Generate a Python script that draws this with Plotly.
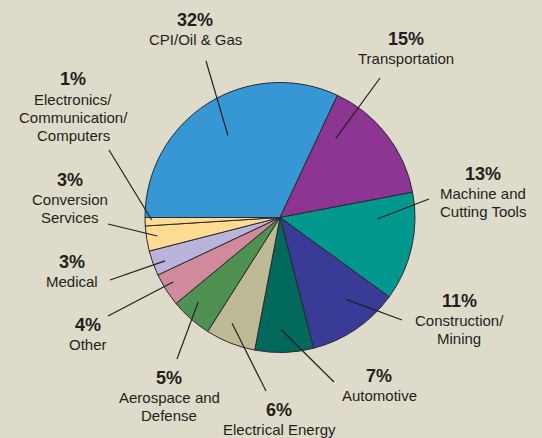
import math
import plotly.graph_objects as go

# ---- data ----
categories = ["CPI/Oil & Gas", "Transportation", "Machine and Cutting Tools",
              "Construction/Mining", "Automotive", "Electrical Energy",
              "Aerospace and Defense", "Other", "Medical", "Conversion Services",
              "Electronics/Communication/Computers"]
values = [32, 15, 13, 11, 7, 6, 5, 4, 3, 3, 1]
label_lines = [["CPI/Oil & Gas"], ["Transportation"], ["Machine and", "Cutting Tools"],
               ["Construction/", "Mining"], ["Automotive"], ["Electrical Energy"],
               ["Aerospace and", "Defense"], ["Other"], ["Medical"],
               ["Conversion", "Services"], ["Electronics/", "Communication/", "Computers"]]

# ---- style ----
colors = ["#3796d4", "#8d3592", "#00978f", "#3a3a97", "#00695b", "#bfba96",
          "#4f9151", "#d18a9b", "#bab3db", "#fedc93", "#fedc93"]
BG = "#dfdbca"
TXT = "#231f20"
W, H = 542, 438
CX, CY, R = 280, 217.5, 135
# label placement (pixels): text centre x, bold line centre y
lab_x = [195, 406, 483, 459, 379, 279, 169, 88, 72, 70, 73]
lab_y = [20, 39, 174, 301, 376, 410, 378, 325, 262, 180, 79.5]
# leader line tails (pixels)
tail = [(206, 61), (380, 78), (429, 199), (402, 320), (334, 382), (266, 391),
        (177, 359), (108, 316), (110, 280), (108, 224), (109, 150)]
# tip position within slice: fraction of slice angle, fraction of radius
tip_af = [0.5, 0.185, 0.25, 0.38, 0.55, 0.63, 0.65, 0.59, 0.42, 0.54, 0.69]
tip_rf = [0.72, 0.72, 0.72, 0.78, 0.83, 0.86, 0.87, 0.925, 0.91, 0.92, 0.95]

FONT = "Liberation Sans, Arial, sans-serif"

fig = go.Figure(go.Pie(
    labels=categories, values=values, sort=False, direction="clockwise",
    rotation=270, textinfo="none", hoverinfo="label+percent",
    marker=dict(colors=colors, line=dict(color="#2a2a2a", width=1)),
    domain=dict(x=[(CX - R) / W, (CX + R) / W],
                y=[(H - CY - R) / H, (H - CY + R) / H]),
    showlegend=False,
))

def px2paper(x, y):
    return x / W, 1 - y / H

annotations = []
shapes = []
total = sum(values)
cum = 0.0
for i, v in enumerate(values):
    start = -90 + 360 * cum / total
    span = 360 * v / total
    cum += v
    ang = math.radians(start + span * tip_af[i])
    tx = CX + R * tip_rf[i] * math.sin(ang)
    ty = CY - R * tip_rf[i] * math.cos(ang)
    x0, y0 = px2paper(*tail[i])
    x1, y1 = px2paper(tx, ty)
    shapes.append(dict(type="line", xref="paper", yref="paper", x0=x0, y0=y0,
                       x1=x1, y1=y1, line=dict(color=TXT, width=1.2)))
    pct = f"{round(100 * v / total)}%"
    px, py = px2paper(lab_x[i], lab_y[i])
    annotations.append(dict(text=f"<b>{pct}</b>", x=px, y=py, xref="paper", yref="paper",
                            xanchor="center", yanchor="middle", showarrow=False,
                            font=dict(family=FONT, size=18, color=TXT)))
    yy = lab_y[i] + 19.5
    for ln in label_lines[i]:
        px, py = px2paper(lab_x[i], yy)
        annotations.append(dict(text=ln, x=px, y=py, xref="paper", yref="paper",
                                xanchor="center", yanchor="middle", showarrow=False,
                                font=dict(family=FONT, size=15, color=TXT)))
        yy += 18.3

fig.update_layout(width=W, height=H, margin=dict(l=0, r=0, t=0, b=0),
                  paper_bgcolor=BG, plot_bgcolor=BG,
                  annotations=annotations, shapes=shapes)
fig.write_html("out.html", config={"displayModeBar": False},
               post_script="document.body.style.margin='0';")
